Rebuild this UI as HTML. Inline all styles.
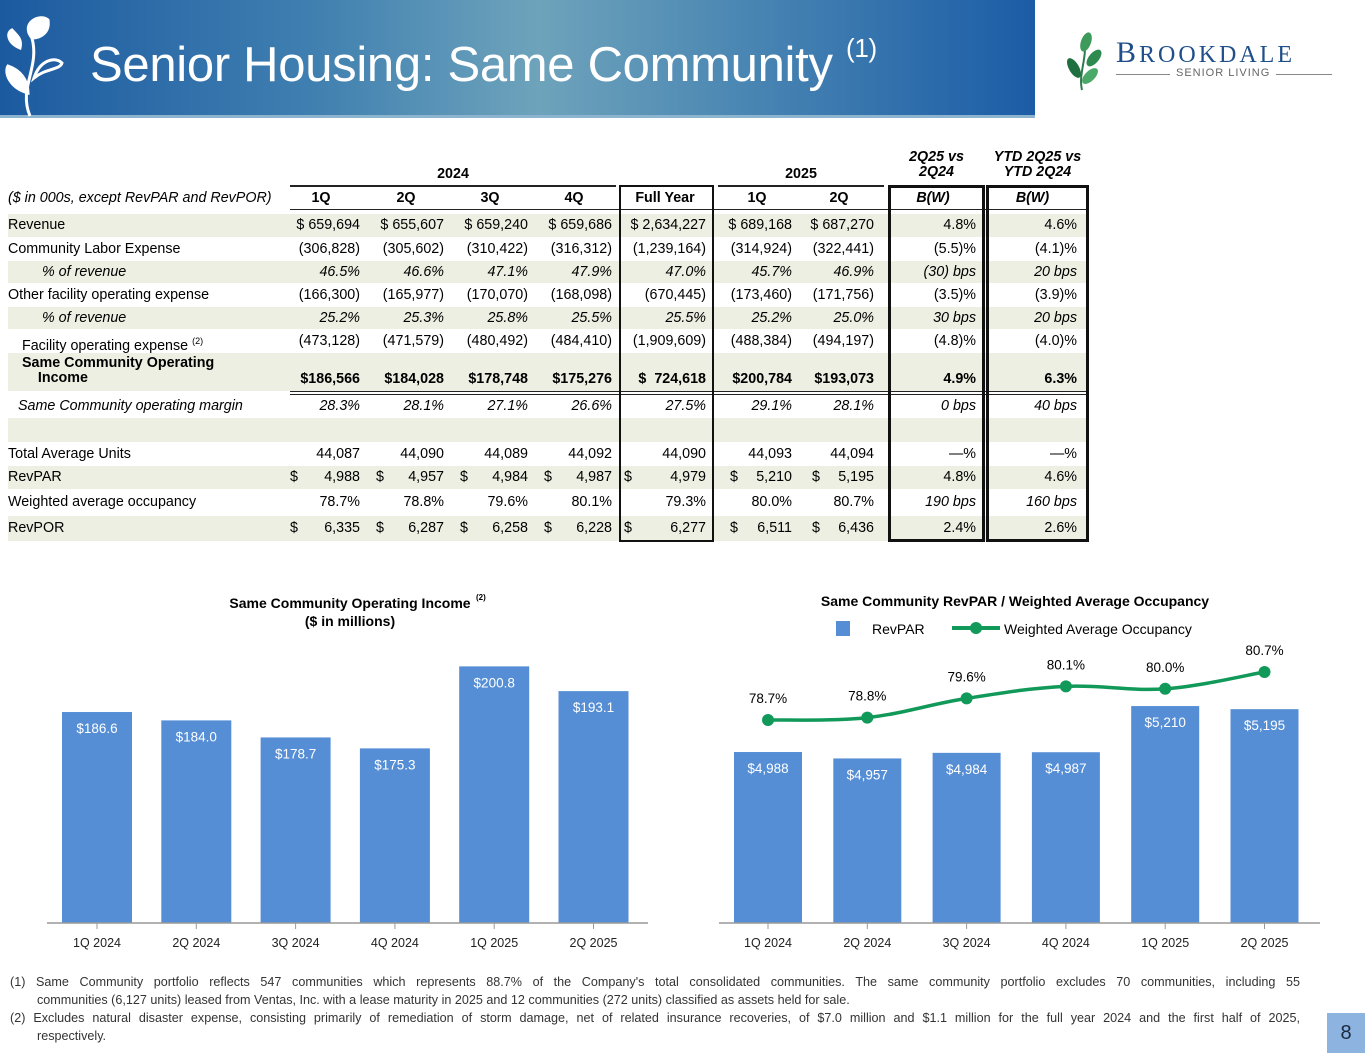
<!DOCTYPE html>
<html><head><meta charset="utf-8">
<style>
*{margin:0;padding:0;box-sizing:border-box}
body{width:1365px;height:1053px;position:relative;background:#fff;font-family:"Liberation Sans",sans-serif;color:#000;overflow:hidden}
.abs{position:absolute}
#banner{left:0;top:0;width:1035px;height:118px;background:linear-gradient(90deg,#1c5aa0 0%,#3f7fb0 30%,#6ea3bb 52%,#4a86b3 72%,#1b5ca6 100%);border-bottom:3px solid #8db4cf}
#title{left:90px;top:37px;font-size:49px;color:#fff;white-space:nowrap;letter-spacing:-0.3px}
#title sup{font-size:26px;vertical-align:top;position:relative;top:-4px}
.cell{position:absolute;font-size:14.3px;white-space:nowrap;line-height:23px}
.r{text-align:right}
.it{font-style:italic}
.b{font-weight:bold}
.shade{position:absolute;left:8px;width:1079px;background:#ecefe2}
.box{position:absolute;border:2px solid #111}
.hl{position:absolute;height:1px;background:#222}
#fn{left:10px;top:973px;width:1290px;font-size:12.6px;line-height:18px;color:#333}
#fn span{display:block;white-space:nowrap}
#fn span.j{text-align:justify;text-align-last:justify;white-space:normal}
#fn span.ind{padding-left:27px}
#pg{left:1327px;top:1013px;width:38px;height:40px;background:#8db3e0;font-size:20px;text-align:center;line-height:40px;color:#1a2a40}
</style></head>
<body>
<div id="banner" class="abs">
<svg class="abs" style="left:0;top:8px" width="70" height="110">
<g fill="none" stroke="#fff" stroke-width="3"><path d="M30 108 C18 80,40 60,32 30"/><path d="M32 30 C20 15,40 5,48 12 C50 25,40 30,32 30Z" fill="#fff"/><path d="M34 70 C46 60,60 62,62 55 C55 48,40 52,34 70Z"/><path d="M28 85 C10 80,4 65,8 58 C20 62,28 72,28 85Z" fill="#fff"/><path d="M20 40 C8 35,6 25,12 22 C18 28,22 32,20 40Z" fill="#fff"/></g></svg>
<div id="title" class="abs">Senior Housing: Same Community <sup>(1)</sup></div>
</div>
<div class="abs" style="left:1062px;top:28px">
<svg width="40" height="64"><path d="M20 62 C16 45,26 30,22 10" stroke="#2f7a4a" stroke-width="2" fill="none"/><ellipse cx="24" cy="14" rx="5" ry="10" fill="#3d9a5a" transform="rotate(20 24 14)"/><ellipse cx="32" cy="30" rx="5" ry="10" fill="#2e8a4e" transform="rotate(40 32 30)"/><ellipse cx="12" cy="40" rx="5" ry="11" fill="#1f7040" transform="rotate(-30 12 40)"/><ellipse cx="28" cy="48" rx="5" ry="10" fill="#4aa868" transform="rotate(45 28 48)"/></svg>
</div>
<div class="abs" style="left:1116px;top:36px;font-family:'Liberation Serif',serif;font-size:30px;color:#1f4f8a;letter-spacing:3px">B<span style="font-size:24px">ROOKDALE</span></div>
<div class="abs" style="left:1116px;top:74px;width:216px;height:1px;background:#888"></div>
<div class="abs" style="left:1170px;top:67px;padding:0 6px;background:#fff;font-size:11px;color:#666;letter-spacing:1px">SENIOR LIVING</div>

<div id="tbl"></div>

<svg id="chart1" class="abs" style="left:0;top:580px" width="690" height="390"></svg>
<svg id="chart2" class="abs" style="left:690px;top:580px" width="675" height="390"></svg>

<div id="fn" class="abs">
<div><span class="j">(1) Same Community portfolio reflects 547 communities which represents 88.7% of the Company's total consolidated communities. The same community portfolio excludes 70 communities, including 55</span><span class="ind">communities (6,127 units) leased from Ventas, Inc. with a lease maturity in 2025 and 12 communities (272 units) classified as assets held for sale.</span></div>
<div><span class="j">(2) Excludes natural disaster expense, consisting primarily of remediation of storm damage, net of related insurance recoveries, of $7.0 million and $1.1 million for the full year 2024 and the first half of 2025,</span><span class="ind">respectively.</span></div>
</div>
<div id="pg" class="abs">8</div>

<script>
// ---------- TABLE ----------
const colL=[278,364,448,532,620,718,800,890,988];
const colR=[360,444,528,612,706,792,874,976,1077];
const rows=[
 {l:"Revenue",t:214,h:23,s:1,v:["$ 659,694","$ 655,607","$ 659,240","$ 659,686","$ 2,634,227","$ 689,168","$ 687,270","4.8%","4.6%"]},
 {l:"Community Labor Expense",t:237,h:24,v:["(306,828)","(305,602)","(310,422)","(316,312)","(1,239,164)","(314,924)","(322,441)","(5.5)%","(4.1)%"]},
 {l:"% of revenue",t:261,h:22,s:1,it:1,ind:34,v:["46.5%","46.6%","47.1%","47.9%","47.0%","45.7%","46.9%","(30) bps","20 bps"]},
 {l:"Other facility operating expense",t:283,h:24,v:["(166,300)","(165,977)","(170,070)","(168,098)","(670,445)","(173,460)","(171,756)","(3.5)%","(3.9)%"]},
 {l:"% of revenue",t:307,h:22,s:1,it:1,ind:34,v:["25.2%","25.3%","25.8%","25.5%","25.5%","25.2%","25.0%","30 bps","20 bps"]},
 {l:"Facility operating expense <sup style='font-size:9px'>(2)</sup>",t:329,h:24,ind:14,v:["(473,128)","(471,579)","(480,492)","(484,410)","(1,909,609)","(488,384)","(494,197)","(4.8)%","(4.0)%"]},
 {l:"Same Community Operating<br>&nbsp;&nbsp;&nbsp;&nbsp;Income",t:353,h:38,s:1,b:1,ind:14,v:["$186,566","$184,028","$178,748","$175,276","$&nbsp;&nbsp;724,618","$200,784","$193,073","4.9%","6.3%"]},
 {l:"Same Community operating margin",t:394,h:24,it:1,ind:10,v:["28.3%","28.1%","27.1%","26.6%","27.5%","29.1%","28.1%","0 bps","40 bps"]},
 {l:"",t:418,h:24,s:1,v:["","","","","","","","",""]},
 {l:"Total Average Units",t:442,h:24,v:["44,087","44,090","44,089","44,092","44,090","44,093","44,094","—%","—%"]},
 {l:"RevPAR",t:466,h:23,s:1,d:1,v:["4,988","4,957","4,984","4,987","4,979","5,210","5,195","4.8%","4.6%"]},
 {l:"Weighted average occupancy",t:489,h:27,v:["78.7%","78.8%","79.6%","80.1%","79.3%","80.0%","80.7%","190 bps","160 bps"]},
 {l:"RevPOR",t:516,h:25,s:1,d:1,v:["6,335","6,287","6,258","6,228","6,277","6,511","6,436","2.4%","2.6%"]}
];
const tbl=document.getElementById('tbl');
function add(html,cls,style,name){const e=document.createElement('div');e.className=cls;e.style.cssText=style;e.innerHTML=html;


tbl.appendChild(e);return e;}
rows.forEach((r,i)=>{
 if(r.s){const s=add('','shade','top:'+r.t+'px;height:'+r.h+'px','row-shade');}
 const lh=r.b?'line-height:15px;top:'+(r.t+3)+'px':'top:'+r.t+'px;line-height:'+r.h+'px';
 add(r.l,'cell'+(r.it?' it':'')+(r.b?' b':''),'left:'+(8+(r.ind||0))+'px;'+lh,'row-label');
 r.v.forEach((v,j)=>{
  const it=r.it||(j>=7&&/bps/.test(v));
  const top=r.b?(r.t+r.h-24):r.t, lhv=r.b?24:r.h;
  add(v,'cell r'+(it?' it':'')+(r.b?' b':''),'left:'+colL[j]+'px;width:'+(colR[j]-colL[j])+'px;top:'+top+'px;line-height:'+lhv+'px','table-value');
  if(r.d&&j<7) add('$','cell','left:'+(colL[j]+(j==4?4:12))+'px;top:'+r.t+'px;line-height:'+r.h+'px','dollar-sign');
 });
});
const hdr=["1Q","2Q","3Q","4Q","Full Year","1Q","2Q","B(W)","B(W)"];
add("($ in 000s, except RevPAR and RevPOR)","cell it","left:8px;top:187px;line-height:22px","column-caption");
hdr.forEach((h,j)=>{add(h,'cell b'+(j>=7?' it':''),'left:'+colL[j]+'px;width:'+(colR[j]-colL[j]+(j<7?4:0))+'px;text-align:center;top:187px;line-height:22px','column-header');});
add("2024","cell b","left:290px;width:326px;text-align:center;top:164px;line-height:20px","year-2024-header");
add("2025","cell b","left:718px;width:166px;text-align:center;top:164px;line-height:20px","year-2025-header");
add("2Q25 vs<br>2Q24","cell b it","left:890px;width:93px;text-align:center;top:150px;line-height:15px","bw-header");
add("YTD 2Q25 vs<br>YTD 2Q24","cell b it","left:988px;width:99px;text-align:center;top:150px;line-height:15px","ytd-header");
add('','hl','left:290px;width:326px;top:185px;height:2px','rule');
add('','hl','left:718px;width:166px;top:185px;height:2px','rule');
add('','hl','left:290px;width:797px;top:209px','rule');
add('','hl','left:290px;width:797px;top:391px','rule');
add('','hl','left:290px;width:797px;top:394px','rule');
add('','box','left:619px;top:185px;width:95px;height:357px','full-year-box');
add('','box','left:888px;top:185px;width:97px;height:357px;border-width:3px','bw-box');
add('','box','left:986px;top:185px;width:103px;height:357px;border-width:3px','ytd-box');

// ---------- CHARTS ----------
const cats=["1Q 2024","2Q 2024","3Q 2024","4Q 2024","1Q 2025","2Q 2025"];
const income=[186.6,184.0,178.7,175.3,200.8,193.1];
const incomeLabels=["$186.6","$184.0","$178.7","$175.3","$200.8","$193.1"];
const revpar=[4988,4957,4984,4987,5210,5195];
const revparLabels=["$4,988","$4,957","$4,984","$4,987","$5,210","$5,195"];
const occupancy=[78.7,78.8,79.6,80.1,80.0,80.7];
const occLabels=["78.7%","78.8%","79.6%","80.1%","80.0%","80.7%"];

const NS="http://www.w3.org/2000/svg";
function el(svg,tag,attrs,text){const e=document.createElementNS(NS,tag);for(const k in attrs)e.setAttribute(k,attrs[k]);if(text!==undefined)e.textContent=text;svg.appendChild(e);return e;}
const BASE=343;
function xCat(i,x0){return x0+i*99.3;}

const c1=document.getElementById('chart1');
const y1=v=>BASE-(v-121)*3.216;
let t=el(c1,'text',{x:350,y:28,'text-anchor':'middle','font-size':14,'font-weight':'bold','font-family':'Liberation Sans'},'Same Community Operating  Income');


t=el(c1,'text',{x:476,y:20,'font-size':8,'font-weight':'bold'},'(2)');


t=el(c1,'text',{x:350,y:46,'text-anchor':'middle','font-size':14,'font-weight':'bold'},'($ in millions)');


income.forEach((v,i)=>{const cx=xCat(i,97);
 const r=el(c1,'rect',{x:cx-35,y:y1(v),width:70,height:BASE-y1(v),fill:'#558ed5'});
 
 
 const l=el(c1,'text',{x:cx,y:y1(v)+21,'text-anchor':'middle','font-size':13.5,fill:'#fff'},incomeLabels[i]);
 
 
 const tk=el(c1,'line',{x1:cx,x2:cx,y1:BASE,y2:BASE+6,stroke:'#999'});
 
 
 const xl=el(c1,'text',{x:cx,y:BASE+24,'text-anchor':'middle','font-size':12.5,fill:'#222'},cats[i]);
 
 
});
t=el(c1,'line',{x1:47,x2:648,y1:BASE,y2:BASE,stroke:'#999','stroke-width':1.5});



const c2=document.getElementById('chart2');
const y2=v=>BASE-(v-4162)*0.207;
const yo=v=>140-(v-78.7)*24;
t=el(c2,'text',{x:325,y:26,'text-anchor':'middle','font-size':14,'font-weight':'bold'},'Same Community RevPAR / Weighted Average Occupancy');


t=el(c2,'rect',{x:146,y:41,width:14,height:15,fill:'#558ed5'});


t=el(c2,'text',{x:182,y:54,'font-size':14},'RevPAR');


t=el(c2,'line',{x1:262,x2:310,y1:48,y2:48,stroke:'#11995a','stroke-width':4});


t=el(c2,'circle',{cx:286,cy:48,r:6,fill:'#11995a'});


t=el(c2,'text',{x:314,y:54,'font-size':14},'Weighted Average Occupancy');


revpar.forEach((v,i)=>{const cx=xCat(i,78);
 const r=el(c2,'rect',{x:cx-34,y:y2(v),width:68,height:BASE-y2(v),fill:'#558ed5'});
 
 
 const l=el(c2,'text',{x:cx,y:y2(v)+21,'text-anchor':'middle','font-size':13.5,fill:'#fff'},revparLabels[i]);
 
 
 const tk=el(c2,'line',{x1:cx,x2:cx,y1:BASE,y2:BASE+6,stroke:'#999'});
 
 
 const xl=el(c2,'text',{x:cx,y:BASE+24,'text-anchor':'middle','font-size':12.5,fill:'#222'},cats[i]);
 
 
});
t=el(c2,'line',{x1:29,x2:630,y1:BASE,y2:BASE,stroke:'#999','stroke-width':1.5});


const pts=occupancy.map((v,i)=>[xCat(i,78),yo(v)]);
let d='M'+pts[0][0]+' '+pts[0][1];
for(let i=0;i<pts.length-1;i++){const p0=pts[Math.max(0,i-1)],p1=pts[i],p2=pts[i+1],p3=pts[Math.min(pts.length-1,i+2)];
 const k=0.18;d+=' C'+(p1[0]+(p2[0]-p0[0])*k)+' '+(p1[1]+(p2[1]-p0[1])*k)+','+(p2[0]-(p3[0]-p1[0])*k)+' '+(p2[1]-(p3[1]-p1[1])*k)+','+p2[0]+' '+p2[1];}
t=el(c2,'path',{d:d,fill:'none',stroke:'#11995a','stroke-width':3.5});


pts.forEach((p,i)=>{
 const c=el(c2,'circle',{cx:p[0],cy:p[1],r:6,fill:'#11995a'});
 
 
 const l=el(c2,'text',{x:p[0],y:p[1]-17,'text-anchor':'middle','font-size':13.5},occLabels[i]);
 
 
});
</script>
</body></html>
